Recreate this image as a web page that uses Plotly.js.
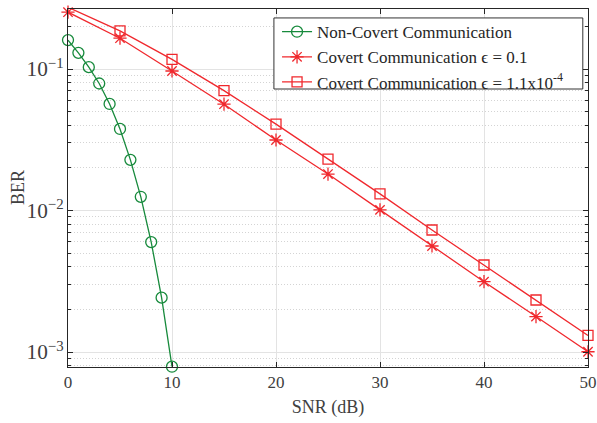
<!DOCTYPE html>
<html>
<head>
<meta charset="utf-8">
<script src="https://cdn.plot.ly/plotly-3.0.1.min.js"></script>
<style>html,body{margin:0;padding:0;background:#fff;}#chart{width:597px;height:423px;}</style>
</head>
<body>
<div id="chart"></div>
<script>
const snrNonCovert = [0,1,2,3,4,5,6,7,8,9,10];
const berNonCovert = [0.160,0.130,0.103,0.079,0.0566,0.0377,0.0228,0.0125,0.00598,0.00242,0.000787];
const snrCovert = [0,5,10,15,20,25,30,35,40,45,50];
const berCovert01 = [0.252,0.165,0.0968,0.0564,0.0315,0.0181,0.0101,0.00561,0.00314,0.00178,0.001004];
const berCovert11e4 = [0.273,0.186,0.117,0.0703,0.0408,0.0231,0.0131,0.00728,0.00412,0.00233,0.00131];
const names = ["Non-Covert Communication","Covert Communication \u03f5 = 0.1","Covert Communication \u03f5 = 1.1x10<sup>-4</sup>"];
const xTicks = [0,10,20,30,40,50];

const green = '#178a3c', red = '#f0282d';
const font = 'Liberation Serif';
const traces = [
  {x: snrNonCovert, y: berNonCovert, name: names[0], mode: 'lines+markers', cliponaxis: false,
   line: {color: green, width: 1.3}, marker: {symbol: 'circle-open', size: 11, color: green, line: {width: 1.3}}},
  {x: snrCovert, y: berCovert01, name: names[1], mode: 'lines+markers', cliponaxis: false,
   line: {color: red, width: 1.3}, marker: {symbol: 'asterisk-open', size: 11, color: red, line: {width: 1.3}}},
  {x: snrCovert, y: berCovert11e4, name: names[2], mode: 'lines+markers', cliponaxis: false,
   line: {color: red, width: 1.3}, marker: {symbol: 'square-open', size: 10, color: red, line: {width: 1.3}}}
];
const layout = {
  width: 597, height: 423,
  margin: {l: 68, r: 9, t: 9, b: 56},
  paper_bgcolor: '#fff', plot_bgcolor: '#fff',
  font: {family: font, size: 17, color: '#404040'},
  showlegend: true,
  legend: {x: 0.402, y: 0.9856, xanchor: 'left', yanchor: 'top', bgcolor: 'rgba(0,0,0,0)',
           borderwidth: 0, font: {family: font, size: 17, color: '#262626'},
           tracegroupgap: 0, itemwidth: 30},
  shapes: [{type: 'rect', xref: 'paper', yref: 'paper', x0: 0.396, x1: 0.990, y0: 0.7765, y1: 0.975,
            fillcolor: '#ffffff', line: {color: '#333333', width: 1}, layer: 'above'}],
  annotations: [{text: 'BER', xref: 'paper', yref: 'paper', x: -0.096, y: 0.5, xanchor: 'center', yanchor: 'middle',
                 textangle: -90, showarrow: false, font: {family: font, size: 18, color: '#404040'}}],
  xaxis: {range: [0, 50], tickvals: xTicks, ticktext: xTicks.map(String),
          showline: true, linecolor: '#262626', linewidth: 1, mirror: 'ticks',
          ticks: 'inside', ticklen: 5, tickcolor: '#262626',
          showgrid: true, gridcolor: '#e3e3e3', gridwidth: 1, zeroline: false,
          title: {text: 'SNR (dB)', font: {family: font, size: 18, color: '#404040'}, standoff: 8},
          tickfont: {family: font, size: 17, color: '#404040'}},
  yaxis: {type: 'log', range: [-3.106, -0.576], dtick: 1, exponentformat: 'power',
          showline: true, linecolor: '#262626', linewidth: 1, mirror: 'ticks',
          ticks: 'inside', ticklen: 5, tickcolor: '#262626',
          showgrid: true, gridcolor: '#e3e3e3', gridwidth: 1, zeroline: false,
          minor: {dtick: 'D1', showgrid: true, gridcolor: '#d4d4d4', griddash: '1px,2px', gridwidth: 1,
                  ticks: 'inside', ticklen: 3, tickcolor: '#262626'},
          tickfont: {family: font, size: 17, color: '#404040'}}
};
Plotly.newPlot('chart', traces, layout, {displayModeBar: false, staticPlot: true});
</script>
</body>
</html>
